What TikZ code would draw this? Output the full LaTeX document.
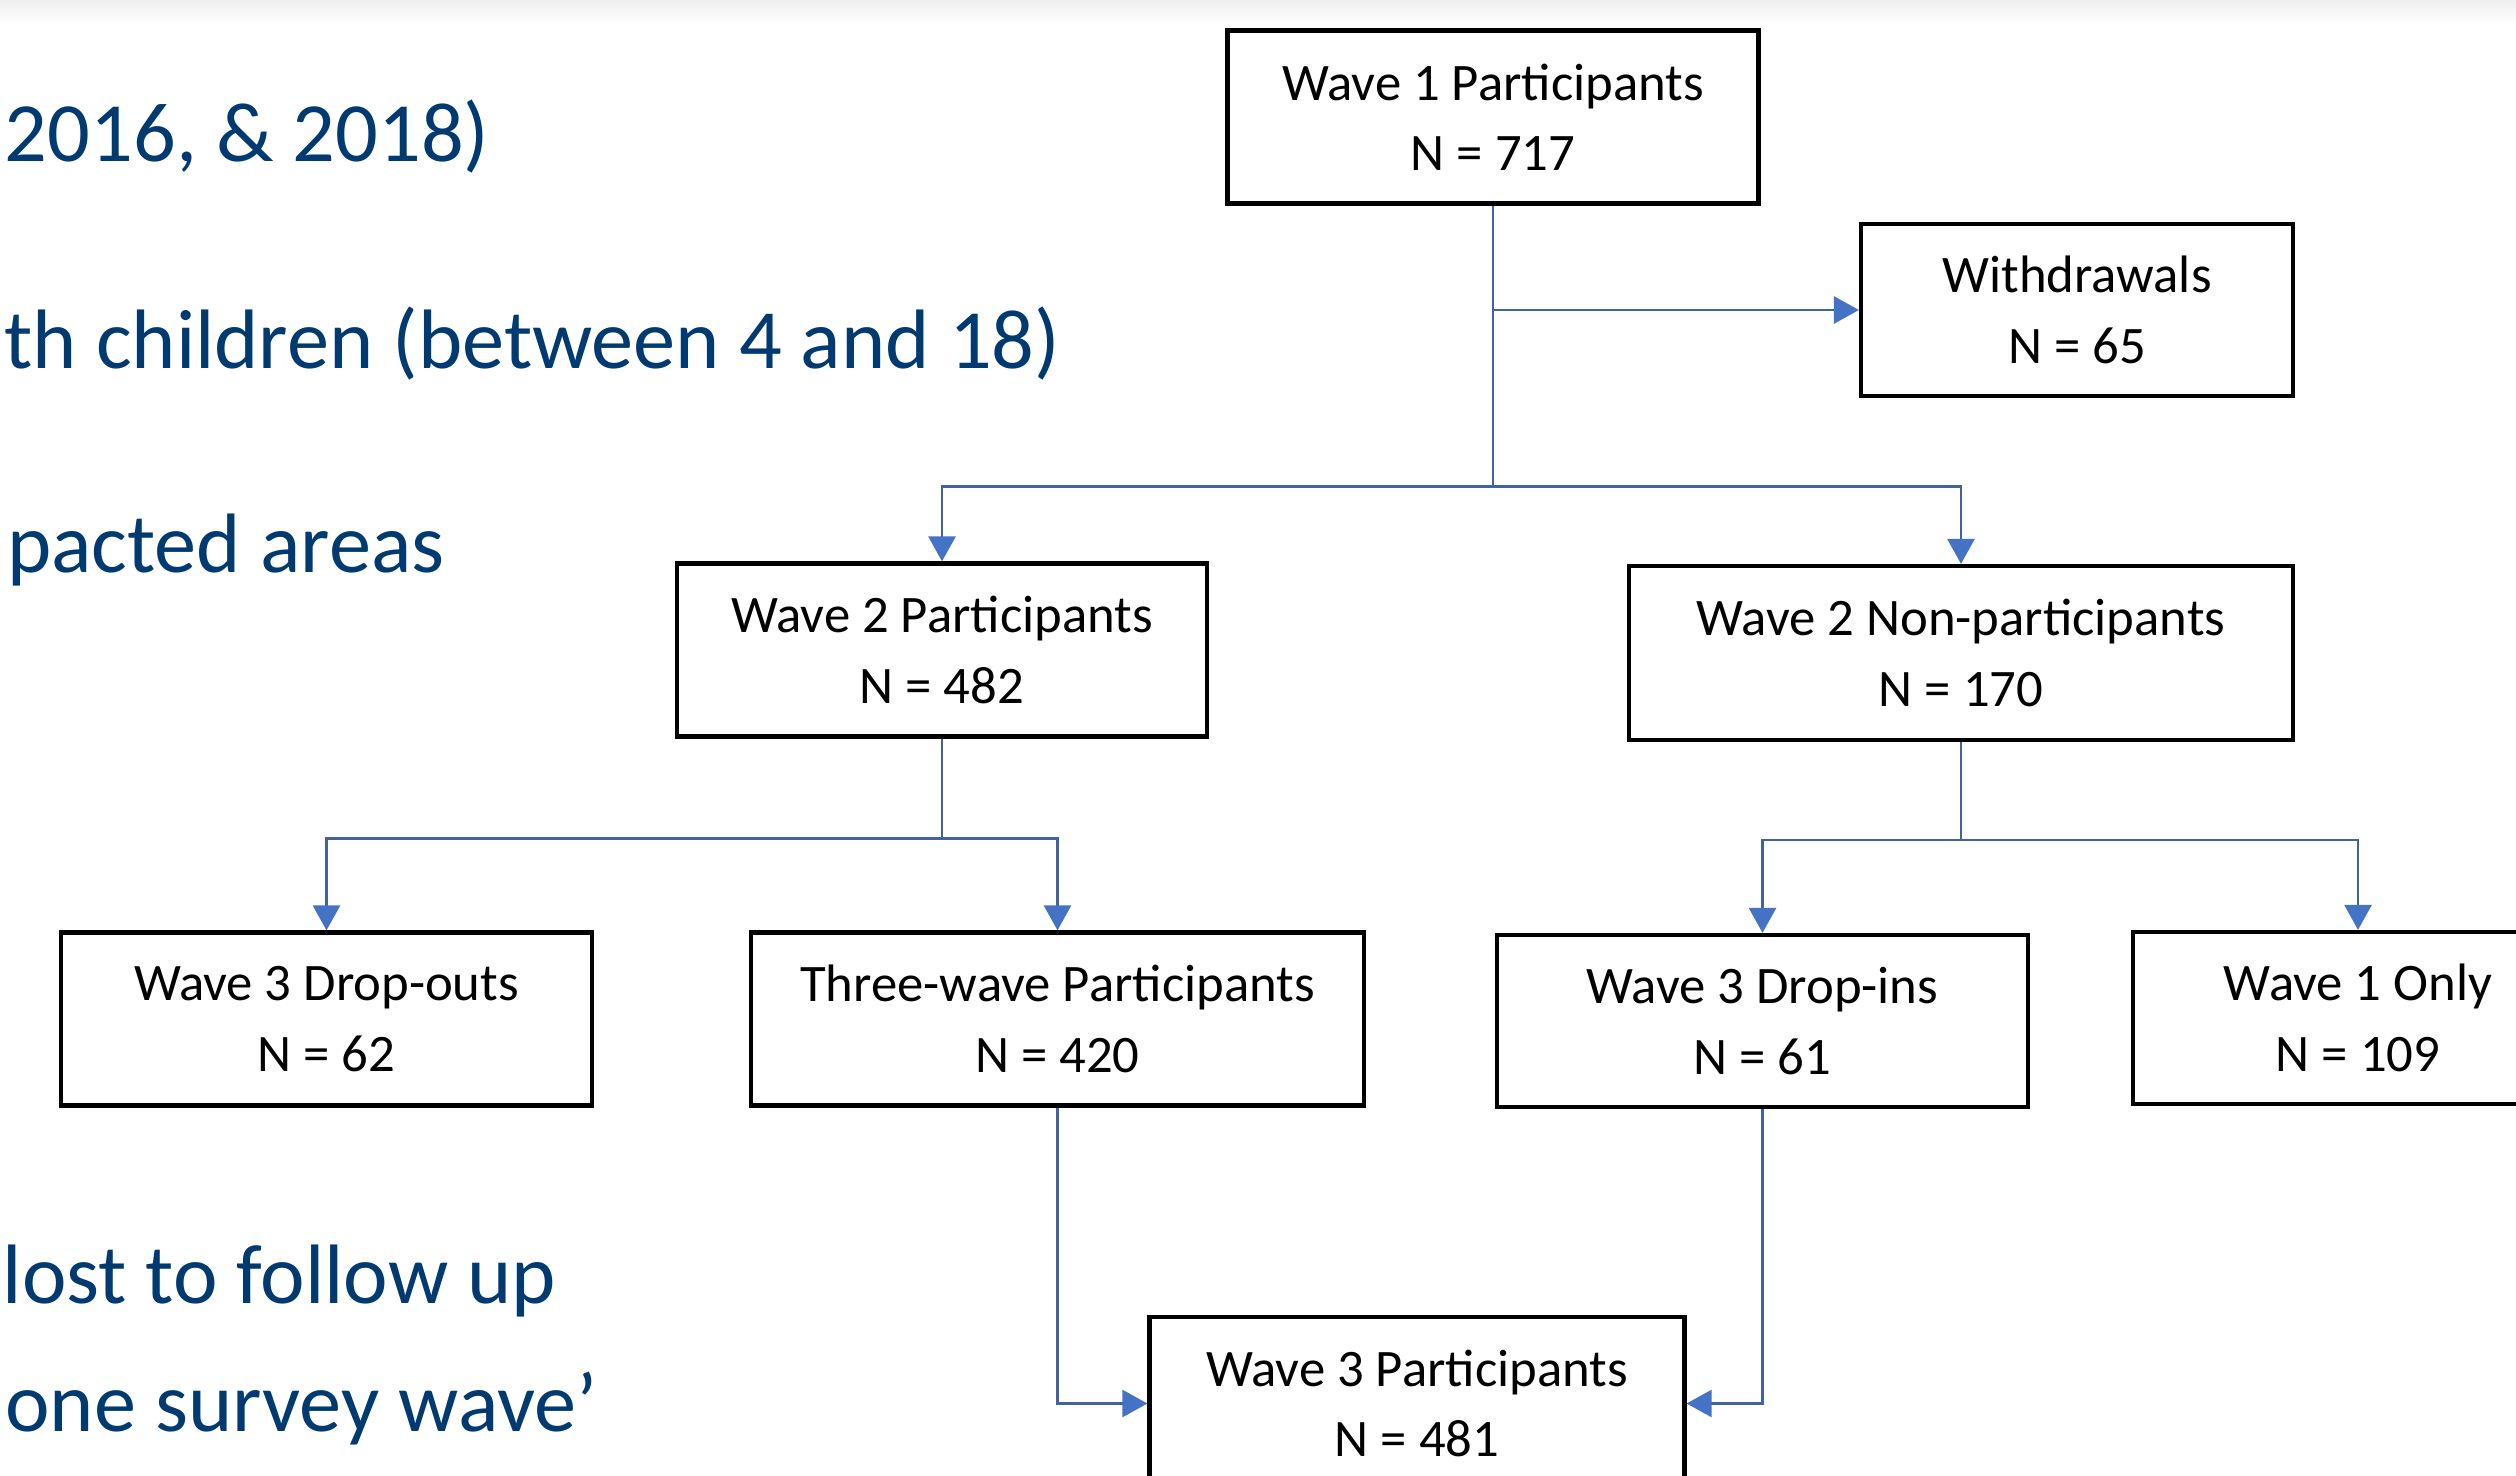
\documentclass[tikz,border=0pt]{standalone}
\usepackage{fontspec}
\setmainfont{Carlito}
\usetikzlibrary{shapes,arrows.meta,positioning,calc}
\definecolor{linkblue}{RGB}{68,97,160}
\definecolor{headblue}{RGB}{68,114,196}
\definecolor{slideblue}{RGB}{0,58,112}
\tikzstyle{box}=[rectangle,draw,line width=1.2pt,fill=white,align=center,minimum height=1.73cm,inner sep=0pt,font=\fontsize{15}{20}\selectfont]
\tikzstyle{link}=[draw=linkblue,line width=0.75pt]
\tikzstyle{arr}=[link,-{Triangle[length=0.25cm,width=0.27cm,color=headblue]}]
\tikzstyle{bullet}=[anchor=base east,inner sep=0pt,text=slideblue,font=\fontsize{24}{29}\selectfont]

\begin{document}
\begin{tikzpicture}
\useasboundingbox (0,0) rectangle (25.16,-14.76);
\clip (0,0) rectangle (25.16,-14.76);
\fill[white] (0,0) rectangle (25.16,-14.76);
\shade[top color=blue!6!gray!12,bottom color=white] (0,0) rectangle (25.16,-0.25);

% slide text cut off at the left
\node[bullet] (L1) at (4.90,-1.62) {2016, \& 2018)};
\node[bullet] (L2) at (10.61,-3.69) {th children (between 4 and 18)};
\node[bullet] (L3) at (4.45,-5.73) {pacted areas};
\node[bullet] (L4) at (5.57,-13.03) {lost to follow up};
\node[bullet] (L5) at (5.98,-14.31) {one survey wave’};

% flow chart
\node[box,minimum width=5.31cm] (W1) at (14.93,-1.17) {Wave 1 Participants\\N = 717};
\node[box,minimum width=4.32cm,minimum height=1.72cm] (WD) at (20.77,-3.10) {Withdrawals\\N = 65};
\node[box,minimum width=5.30cm] (P2) at (9.42,-6.50) {Wave 2 Participants\\N = 482};
\node[box,minimum width=6.64cm,minimum height=1.74cm] (N2) at (19.61,-6.53) {Wave 2 Non-participants\\N = 170};
\node[box,minimum width=5.31cm] (D3) at (3.265,-10.19) {Wave 3 Drop-outs\\N = 62};
\node[box,minimum width=6.13cm] (T3) at (10.575,-10.19) {Three-wave Participants\\N = 420};
\node[box,minimum width=5.31cm,minimum height=1.72cm] (I3) at (17.625,-10.21) {Wave 3 Drop-ins\\N = 61};
\node[box,minimum width=4.50cm,minimum height=1.72cm] (O1) at (23.58,-10.18) {Wave 1 Only\\N = 109};
\node[box,minimum width=5.35cm] (P3) at (14.17,-14.035) {Wave 3 Participants\\N = 481};

\coordinate (J1) at ($(W1.south)+(0,-2.81)$);
\coordinate (J2) at ($(P2.south)+(0,-1.00)$);
\coordinate (J3) at ($(N2.south)+(0,-0.98)$);

\path[arr] (W1.south) |- (WD.west);
\path[link] (W1.south) -- (J1);
\path[arr] (J1) -| (P2.north);
\path[arr] (J1) -| (N2.north);
\path[link] (P2.south) -- (J2);
\path[arr] (J2) -| (D3.north);
\path[arr] (J2) -| (T3.north);
\path[link] (N2.south) -- (J3);
\path[arr] (J3) -| (I3.north);
\path[arr] (J3) -| (O1.north);
\path[arr] (T3.south) |- (P3.west);
\path[arr] (I3.south) |- (P3.east);
\end{tikzpicture}
\end{document}
